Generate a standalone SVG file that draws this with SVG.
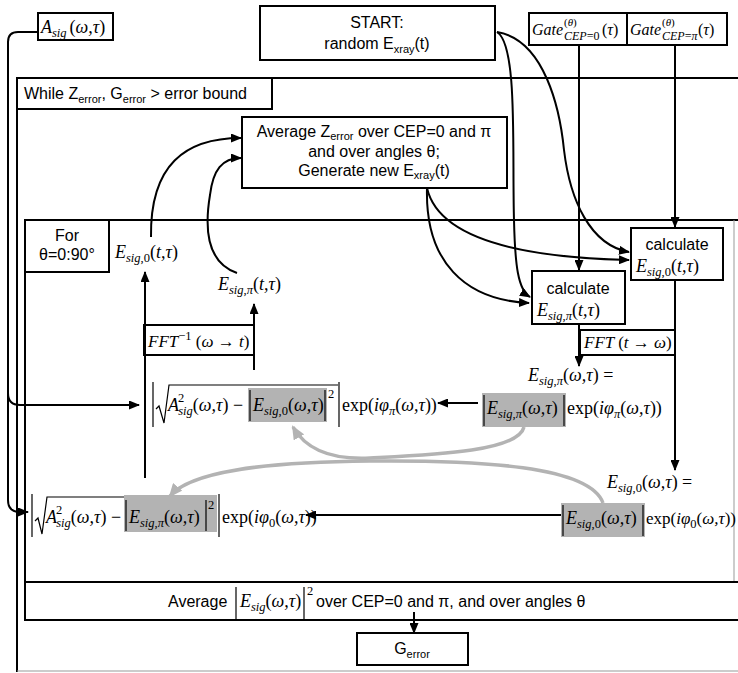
<svg xmlns="http://www.w3.org/2000/svg" width="738" height="673" viewBox="0 0 738 673">
<style>
.b{fill:#fff;stroke:#000;stroke-width:2}
.ln{fill:none;stroke:#000;stroke-width:2}
.th{fill:none;stroke:#000;stroke-width:1.2}
.gl{fill:none;stroke:#b3b3b3;stroke-width:3.5}
.gr{fill:#b3b3b3;stroke:none}
.t{font-family:"Liberation Sans",Arial,sans-serif;font-size:16px;fill:#000}
.m{font-family:"Liberation Serif","Times New Roman",serif;font-size:18px;font-style:italic;fill:#000}
.s{font-size:12.5px}
.ts{font-size:11px}
.n{font-style:normal}
.c{text-anchor:middle}
.f{font-size:17px}
.gt{font-size:16px}
</style>
<defs>
<marker id="a" markerUnits="userSpaceOnUse" markerWidth="11" markerHeight="9" viewBox="0 0 11 9" refX="10" refY="4.5" orient="auto"><path d="M0,0 L11,4.5 L0,9 z" fill="#000"/></marker>
<marker id="g" markerUnits="userSpaceOnUse" markerWidth="14" markerHeight="12" viewBox="0 0 14 12" refX="12" refY="6" orient="auto"><path d="M0,0 L14,6 L0,12 z" fill="#b3b3b3"/></marker>
</defs>
<rect width="738" height="673" fill="#fff"/>

<g id="while-loop">
<line x1="17" y1="78" x2="738" y2="78" class="ln"/>
<line x1="17" y1="78" x2="17" y2="672" class="ln"/>
<line x1="17" y1="671" x2="738" y2="671" stroke="#999" stroke-width="1"/>
<rect x="17" y="78" width="255" height="31" class="b"/>
<text x="24" y="99" class="t">While Z<tspan class="ts" dy="4">error</tspan><tspan dy="-4">, G</tspan><tspan class="ts" dy="4">error</tspan><tspan dy="-4"> &gt; error bound</tspan></text>
</g>

<g id="for-loop">
<line x1="25" y1="220" x2="738" y2="220" class="ln"/>
<line x1="25" y1="220" x2="25" y2="582" class="ln"/>
<line x1="734" y1="220" x2="734" y2="582" stroke="#999" stroke-width="1"/>
<rect x="25" y="220" width="84" height="52" class="b"/>
<text x="67" y="241" class="t c">For</text>
<text x="67" y="260" class="t c">θ=0:90°</text>
</g>

<g id="asig">
<rect x="38" y="13" width="75" height="27" class="b"/>
<text x="41" y="33" class="m">A<tspan class="s" dy="4">sig</tspan><tspan dy="-4" dx="3" class="n">(</tspan>ω,τ<tspan class="n">)</tspan></text>
</g>

<g id="start">
<rect x="260" y="6" width="235" height="54" class="b"/>
<text x="377" y="28" class="t c">START:</text>
<text x="377" y="49" class="t c">random E<tspan class="ts" dy="4">xray</tspan><tspan dy="-4">(t)</tspan></text>
</g>

<g id="gate0">
<rect x="529" y="13" width="98" height="32" class="b"/>
<text x="532" y="35" class="m gt">Gate</text>
<text x="564" y="26" class="m ts"><tspan class="n">(</tspan>θ<tspan class="n">)</tspan></text>
<text x="564" y="40" class="m" style="font-size:12px">CEP<tspan class="n">=0</tspan></text>
<text x="602" y="35" class="m gt"><tspan class="n">(</tspan>τ<tspan class="n">)</tspan></text>
</g>
<g id="gatepi">
<rect x="627" y="13" width="100" height="32" class="b"/>
<text x="630" y="35" class="m gt">Gate</text>
<text x="662" y="26" class="m ts"><tspan class="n">(</tspan>θ<tspan class="n">)</tspan></text>
<text x="662" y="40" class="m" style="font-size:12px">CEP<tspan class="n">=</tspan>π</text>
<text x="698" y="35" class="m gt"><tspan class="n">(</tspan>τ<tspan class="n">)</tspan></text>
</g>

<g id="avgz">
<rect x="242" y="117" width="265" height="71" class="b"/>
<text x="374" y="137" class="t c">Average Z<tspan class="ts" dy="3">error</tspan><tspan dy="-3"> over CEP=0 and π</tspan></text>
<text x="374" y="157" class="t c">and over angles θ;</text>
<text x="374" y="176" class="t c">Generate new E<tspan class="ts" dy="3">xray</tspan><tspan dy="-3">(t)</tspan></text>
</g>

<g id="calc0">
<rect x="631" y="228" width="92" height="52" class="b"/>
<text x="677" y="250" class="t c">calculate</text>
<text x="636" y="272" class="m">E<tspan class="s" dy="4">sig<tspan class="n">,0</tspan></tspan><tspan dy="-4" class="n">(</tspan>t,τ<tspan class="n">)</tspan></text>
</g>

<g id="calcpi">
<rect x="532" y="271" width="93" height="53" class="b"/>
<text x="578" y="294" class="t c">calculate</text>
<text x="537" y="316" class="m">E<tspan class="s" dy="4">sig<tspan class="n">,</tspan>π</tspan><tspan dy="-4" class="n">(</tspan>t,τ<tspan class="n">)</tspan></text>
</g>

<g id="fft">
<rect x="580" y="330" width="95" height="25" class="b"/>
<text x="584" y="348" class="m f">FFT <tspan class="n">(</tspan>t <tspan class="n">→</tspan> ω<tspan class="n">)</tspan></text>
</g>

<g id="ifft">
<rect x="144" y="325" width="110" height="30" class="b"/>
<text x="148" y="347" class="m f">FFT<tspan class="s n" dy="-7">−1</tspan><tspan dy="7" class="n"> (</tspan>ω <tspan class="n">→</tspan> t<tspan class="n">)</tspan></text>
</g>

<g id="esig0t">
<text x="115" y="258" class="m">E<tspan class="s" dy="4">sig<tspan class="n">,0</tspan></tspan><tspan dy="-4" class="n">(</tspan>t,τ<tspan class="n">)</tspan></text>
</g>
<g id="esigpit">
<text x="218" y="290" class="m">E<tspan class="s" dy="4">sig<tspan class="n">,</tspan>π</tspan><tspan dy="-4" class="n">(</tspan>t,τ<tspan class="n">)</tspan></text>
</g>

<g id="esigpi-w">
<text x="528" y="381" class="m">E<tspan class="s" dy="4">sig<tspan class="n">,</tspan>π</tspan><tspan dy="-4" class="n">(</tspan>ω,τ<tspan class="n">) =</tspan></text>
<rect x="482" y="393" width="84" height="34" class="gr"/>
<line x1="484" y1="395" x2="484" y2="426" class="th"/>
<line x1="564" y1="395" x2="564" y2="426" class="th"/>
<text x="487" y="414" class="m">E<tspan class="s" dy="4">sig<tspan class="n">,</tspan>π</tspan><tspan dy="-4" class="n">(</tspan>ω,τ<tspan class="n">)</tspan></text>
<text x="567" y="414" class="m"><tspan class="n">exp(</tspan>iφ<tspan class="s" dy="4">π</tspan><tspan dy="-4" class="n">(</tspan>ω,τ<tspan class="n">))</tspan></text>
</g>

<g id="esig0-w">
<text x="607" y="488" class="m">E<tspan class="s" dy="4">sig<tspan class="n">,0</tspan></tspan><tspan dy="-4" class="n">(</tspan>ω,τ<tspan class="n">) =</tspan></text>
<rect x="561" y="503" width="84" height="34" class="gr"/>
<line x1="563" y1="505" x2="563" y2="536" class="th"/>
<line x1="643" y1="505" x2="643" y2="536" class="th"/>
<text x="566" y="524" class="m">E<tspan class="s" dy="4">sig<tspan class="n">,0</tspan></tspan><tspan dy="-4" class="n">(</tspan>ω,τ<tspan class="n">)</tspan></text>
<text x="646" y="524" class="m f"><tspan class="n">exp(</tspan>iφ<tspan class="s n" dy="4">0</tspan><tspan dy="-4" class="n">(</tspan>ω,τ<tspan class="n">))</tspan></text>
</g>

<g id="formula1">
<line x1="153" y1="382" x2="153" y2="427" class="th"/>
<path d="M156,409 L159,406 L164,423 L169,385 L338,385" class="th"/>
<rect x="248" y="388" width="79" height="34" class="gr"/>
<line x1="250" y1="390" x2="250" y2="421" class="th"/>
<line x1="325" y1="390" x2="325" y2="421" class="th"/>
<text x="168" y="411" class="m">A<tspan class="s n" dx="-1" dy="-9">2</tspan><tspan class="s" dx="-6" dy="13">sig</tspan><tspan dy="-4" class="n">(</tspan>ω,τ<tspan class="n">) −</tspan></text>
<text x="253" y="411" class="m">E<tspan class="s" dy="4">sig<tspan class="n">,0</tspan></tspan><tspan dy="-4" class="n">(</tspan>ω,τ<tspan class="n">)</tspan></text>
<text x="328" y="398" class="m s n">2</text>
<line x1="339" y1="382" x2="339" y2="427" class="th"/>
<text x="342" y="411" class="m"><tspan class="n">exp(</tspan>iφ<tspan class="s" dy="4">π</tspan><tspan dy="-4" class="n">(</tspan>ω,τ<tspan class="n">))</tspan></text>
</g>

<g id="formula2">
<line x1="32" y1="494" x2="32" y2="537" class="th"/>
<path d="M35,521 L38,518 L42,534 L47,497 L217,497" class="th"/>
<rect x="124" y="495" width="93" height="37" class="gr"/>
<line x1="126" y1="500" x2="126" y2="531" class="th"/>
<line x1="206" y1="500" x2="206" y2="531" class="th"/>
<text x="46" y="523" class="m">A<tspan class="s n" dx="-1" dy="-9">2</tspan><tspan class="s" dx="-6" dy="13">sig</tspan><tspan dy="-4" class="n">(</tspan>ω,τ<tspan class="n">) −</tspan></text>
<text x="129" y="523" class="m">E<tspan class="s" dy="4">sig<tspan class="n">,</tspan>π</tspan><tspan dy="-4" class="n">(</tspan>ω,τ<tspan class="n">)</tspan></text>
<text x="208" y="509" class="m s n">2</text>
<line x1="219" y1="494" x2="219" y2="537" class="th"/>
<text x="222" y="523" class="m"><tspan class="n">exp(</tspan>iφ<tspan class="s n" dy="4">0</tspan><tspan dy="-4" class="n">(</tspan>ω,τ<tspan class="n">))</tspan></text>
</g>

<g id="avg-e">
<rect x="25" y="582" width="720" height="38" class="b"/>
<text x="168" y="607" class="t">Average</text>
<line x1="236" y1="587" x2="236" y2="619" class="th"/>
<text x="240" y="607" class="m">E<tspan class="s" dy="4">sig</tspan><tspan dy="-4" class="n">(</tspan>ω,τ<tspan class="n">)</tspan></text>
<line x1="304" y1="587" x2="304" y2="619" class="th"/>
<text x="307" y="595" class="m s n">2</text>
<text x="316" y="607" class="t">over CEP=0 and π, and over angles θ</text>
</g>

<g id="gerror">
<rect x="357" y="633" width="111" height="32" class="b"/>
<text x="412" y="654" class="t c">G<tspan class="ts" dy="4">error</tspan></text>
</g>

<g id="connectors">
<path d="M38,32 L18,32 Q8,32 8,42 L8,500 Q8,512 20,512 L28,512" class="ln" marker-end="url(#a)"/>
<path d="M8,393 Q8,405 20,405 L139,405" class="ln" marker-end="url(#a)"/>
<path d="M497,32 C518,45 512,150 514,220 C515,265 518,290 530,297" class="ln" marker-end="url(#a)"/>
<path d="M497,32 C545,40 560,110 564,150 C570,200 590,245 629,252" class="ln" marker-end="url(#a)"/>
<path d="M427,188 C425,262 465,300 529,303" class="ln" marker-end="url(#a)"/>
<path d="M427,188 C440,245 540,258 629,260" class="ln" marker-end="url(#a)"/>
<line x1="579" y1="45" x2="579" y2="270" class="ln" marker-end="url(#a)"/>
<line x1="675" y1="45" x2="675" y2="227" class="ln" marker-end="url(#a)"/>
<line x1="675" y1="280" x2="675" y2="470" class="ln" marker-end="url(#a)"/>
<line x1="579" y1="324" x2="579" y2="366" class="ln" marker-end="url(#a)"/>
<line x1="478" y1="403" x2="438" y2="403" class="ln" marker-end="url(#a)"/>
<line x1="561" y1="515" x2="306" y2="515" class="ln" marker-end="url(#a)"/>
<line x1="145" y1="478" x2="145" y2="272" class="ln" marker-end="url(#a)"/>
<line x1="254" y1="370" x2="254" y2="304" class="ln" marker-end="url(#a)"/>
<path d="M151,237 C150,165 185,138 241,138" class="ln" marker-end="url(#a)"/>
<path d="M237,273 C205,262 205,225 210,195 C213,170 222,158 241,158" class="ln" marker-end="url(#a)"/>
<line x1="414" y1="612" x2="414" y2="633" class="ln" marker-end="url(#a)"/>
<path d="M524,427 C518,452 430,455 370,458 C330,460 305,448 293,427" class="gl" marker-end="url(#g)"/>
<path d="M603,503 C590,466 480,460 370,461 C260,462 190,472 170,496" class="gl" marker-end="url(#g)"/>
</g>
</svg>
